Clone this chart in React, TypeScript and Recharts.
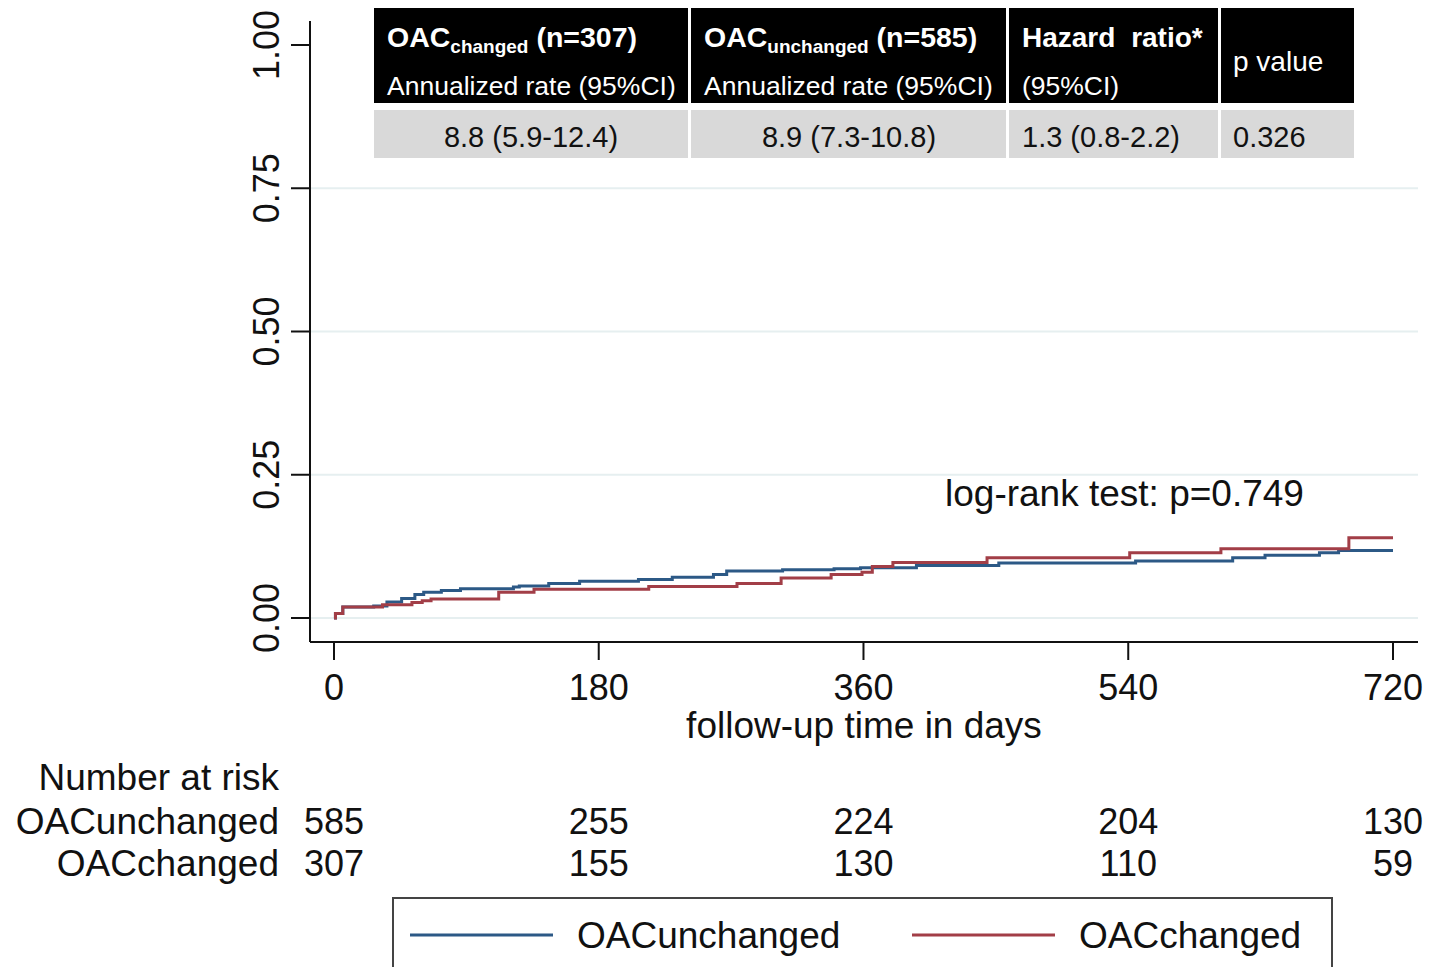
import React from 'react'
import { LineChart, Line, XAxis, YAxis, CartesianGrid, Legend, Label } from 'recharts'

const xTicks = [0, 180, 360, 540, 720]
const yTicks = [0, 0.25, 0.5, 0.75, 1]
const gridValues = [0, 0.25, 0.5, 0.75]

// cumulative incidence
const unchangedDays = [0, 1, 6, 27, 36, 46, 55, 61, 73, 86, 122, 126, 146, 167, 207, 230, 258, 267, 305, 340, 358, 396, 452, 545, 611, 633, 670, 683, 720]
const unchangedRisk = [0, 0.008, 0.019, 0.021, 0.028, 0.034, 0.041, 0.045, 0.048, 0.051, 0.054, 0.056, 0.06, 0.064, 0.067, 0.071, 0.076, 0.082, 0.084, 0.086, 0.0875, 0.0917, 0.0958, 0.0994, 0.105, 0.1095, 0.114, 0.118, 0.118]
const changedDays = [0, 1, 6, 33, 53, 60, 66, 112, 136, 214, 274, 304, 338, 359, 366, 380, 444, 541, 603, 690, 720]
const changedRisk = [0, 0.008, 0.019, 0.023, 0.027, 0.03, 0.033, 0.045, 0.05, 0.055, 0.06, 0.07, 0.076, 0.08, 0.09, 0.097, 0.105, 0.114, 0.121, 0.14, 0.14]

const atRiskUnchanged = [585, 255, 224, 204, 130]
const atRiskChanged = [307, 155, 130, 110, 59]
const seriesNames = ['OACunchanged', 'OACchanged']
const seriesColors = ['#2c5986', '#a23e47']

const tableValues = ['8.8 (5.9-12.4)', '8.9 (7.3-10.8)', '1.3 (0.8-2.2)', '0.326']
const logRankText = 'log-rank test: p=0.749'

const unchangedData = unchangedDays.map((day, i) => ({ day, risk: unchangedRisk[i] }))
const changedData = changedDays.map((day, i) => ({ day, risk: changedRisk[i] }))

const FONT = '"Liberation Sans", Arial, sans-serif'

const YTick = (p: any) => (
  <text x={279} y={p.y} transform={`rotate(-90 279 ${p.y})`} textAnchor="middle" fontSize={36} fill="#111" fontFamily={FONT}>
    {Number(p.payload.value).toFixed(2)}
  </text>
)

const XTick = (p: any) => {
  const i = xTicks.indexOf(p.payload.value)
  return (
    <g fontFamily={FONT} fontSize={36} fill="#111">
      <text x={p.x} y={700} textAnchor="middle">{p.payload.value}</text>
      <text x={p.x} y={834} textAnchor="middle">{atRiskUnchanged[i]}</text>
      <text x={p.x} y={876} textAnchor="middle">{atRiskChanged[i]}</text>
      {i === 0 && (
        <g fontSize={37}>
          <text x={279} y={790} textAnchor="end">Number at risk</text>
          <text x={279} y={834} textAnchor="end">{seriesNames[0]}</text>
          <text x={279} y={876} textAnchor="end">{seriesNames[1]}</text>
        </g>
      )}
    </g>
  )
}

const LegendBox = (props: any) => {
  const items = [...(props.payload || [])].sort(
    (a: any, b: any) => seriesNames.indexOf(a.value) - seriesNames.indexOf(b.value)
  )
  return (
    <svg width={941} height={72} style={{ display: 'block' }}>
      <rect x={1} y={1} width={939} height={80} fill="#fff" stroke="#444" strokeWidth={2} />
      {items.map((it: any, i: number) => (
        <g key={i}>
          <line x1={18 + i * 502} x2={161 + i * 502} y1={38} y2={38} stroke={it.color} strokeWidth={3} />
          <text x={185 + i * 502} y={51} fontSize={37} fontFamily={FONT} fill="#111">{it.value}</text>
        </g>
      ))}
    </svg>
  )
}

const colX = [374, 691, 1009, 1221]
const colW = [314, 315, 209, 133]

function EffectTable() {
  return (
    <svg width={1433} height={170} style={{ position: 'absolute', left: 0, top: 0 }} fontFamily={FONT}>
      {colX.map((x, i) => (
        <g key={i}>
          <rect x={x} y={8} width={colW[i]} height={95} fill="#000" />
          <rect x={x} y={110} width={colW[i]} height={48} fill="#d9d9d9" />
        </g>
      ))}
      <text x={387} y={47} fill="#fff" fontSize={28.5} fontWeight="bold">
        OAC<tspan fontSize={19} dy={6}>changed</tspan><tspan dy={-6}> (n=307)</tspan>
      </text>
      <text x={387} y={95} fill="#fff" fontSize={26.5}>Annualized rate (95%CI)</text>
      <text x={704} y={47} fill="#fff" fontSize={28.5} fontWeight="bold">
        OAC<tspan fontSize={19} dy={6}>unchanged</tspan><tspan dy={-6}> (n=585)</tspan>
      </text>
      <text x={704} y={95} fill="#fff" fontSize={26.5}>Annualized rate (95%CI)</text>
      <text x={1022} y={47} fill="#fff" fontSize={28} fontWeight="bold" style={{ wordSpacing: 8 }}>Hazard ratio*</text>
      <text x={1022} y={95} fill="#fff" fontSize={26.5}>(95%CI)</text>
      <text x={1233} y={71} fill="#fff" fontSize={28}>p value</text>
      <text x={531} y={147} fontSize={29} textAnchor="middle" fill="#111">{tableValues[0]}</text>
      <text x={849} y={147} fontSize={29} textAnchor="middle" fill="#111">{tableValues[1]}</text>
      <text x={1022} y={147} fontSize={29} fill="#111">{tableValues[2]}</text>
      <text x={1233} y={147} fontSize={29} fill="#111">{tableValues[3]}</text>
    </svg>
  )
}

export default function App() {
  return (
    <div style={{ position: 'absolute', left: 0, top: 0, width: 1433, height: 967, background: '#fff', overflow: 'hidden' }}>
      <LineChart width={1433} height={967} margin={{ top: 21, right: 15, left: 0, bottom: 295 }}>
        <CartesianGrid vertical={false} horizontalValues={gridValues} stroke="#e6eff0" strokeWidth={2} />
        <XAxis
          type="number"
          dataKey="day"
          domain={[-16.3, 737]}
          ticks={xTicks}
          interval={0}
          allowDataOverflow
          height={30}
          tickSize={18}
          axisLine={{ stroke: '#111', strokeWidth: 2 }}
          tickLine={{ stroke: '#111', strokeWidth: 2 }}
          tick={<XTick />}
        >
          <Label
            content={(lp: any) => (
              <text x={lp.viewBox.x + lp.viewBox.width / 2} y={738} textAnchor="middle" fontSize={37} fontFamily={FONT} fill="#111">
                follow-up time in days
              </text>
            )}
          />
        </XAxis>
        <YAxis
          type="number"
          domain={[-0.0419, 1.0419]}
          ticks={yTicks}
          interval={0}
          allowDataOverflow
          width={310}
          tickSize={19}
          axisLine={{ stroke: '#111', strokeWidth: 2 }}
          tickLine={{ stroke: '#111', strokeWidth: 2 }}
          tick={<YTick />}
        />
        <Line data={unchangedData} dataKey="risk" name={seriesNames[0]} type="stepAfter" stroke={seriesColors[0]} strokeWidth={3} dot={false} isAnimationActive={false} />
        <Line data={changedData} dataKey="risk" name={seriesNames[1]} type="stepAfter" stroke={seriesColors[1]} strokeWidth={3} dot={false} isAnimationActive={false} />
        <Legend
          layout="horizontal"
          verticalAlign="middle"
          align="center"
          content={<LegendBox />}
          wrapperStyle={{ left: 392, top: 897, width: 941, height: 72 }}
        />
      </LineChart>
      <EffectTable />
      <div style={{ position: 'absolute', left: 945, top: 470, fontSize: 37, fontFamily: FONT, color: '#111', whiteSpace: 'nowrap', lineHeight: '48px' }}>
        {logRankText}
      </div>
    </div>
  )
}
